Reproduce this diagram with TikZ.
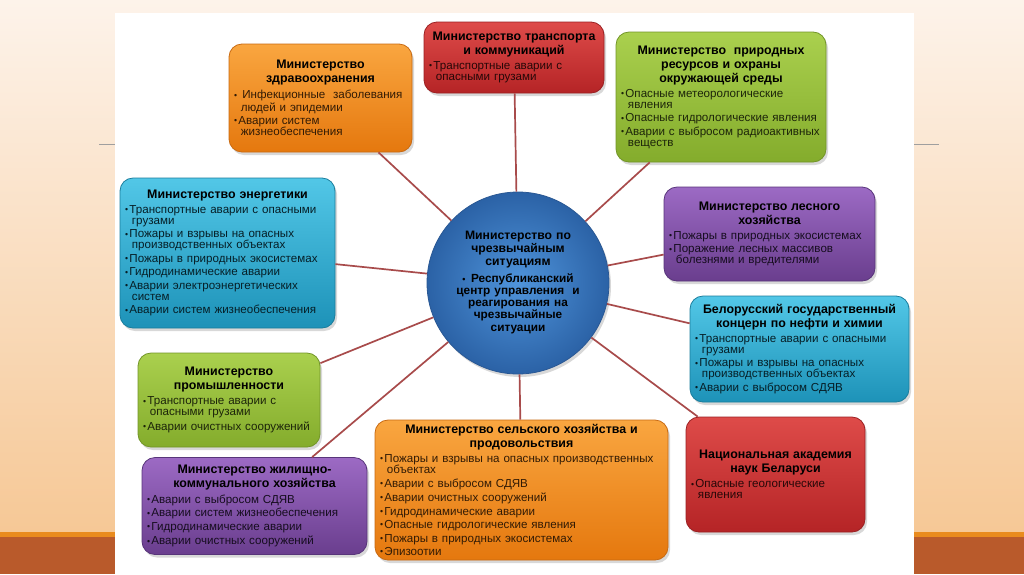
\documentclass[tikz,border=0pt]{standalone}
\usepackage{fontspec}
\setmainfont{Liberation Sans}
\usepackage{xcolor}
\usepackage{tikz}
\usetikzlibrary{positioning}
\usetikzlibrary{shadows}
\usetikzlibrary{shapes.geometric}
\setlength{\parindent}{0pt}

\definecolor{bgT}{HTML}{FDF3EA}
\definecolor{bgB}{HTML}{F6C896}
\definecolor{stripO}{HTML}{E98B1E}
\definecolor{bandB}{HTML}{B95A2B}
\definecolor{orT}{HTML}{F9A640}
\definecolor{orB}{HTML}{E5780E}
\definecolor{orD}{HTML}{C86A12}
\definecolor{rdT}{HTML}{DE4B49}
\definecolor{rdB}{HTML}{B52426}
\definecolor{rdD}{HTML}{9A2022}
\definecolor{grT}{HTML}{AAD04E}
\definecolor{grB}{HTML}{84AC2C}
\definecolor{grD}{HTML}{729528}
\definecolor{cyT}{HTML}{52C7E7}
\definecolor{cyB}{HTML}{1D92B8}
\definecolor{cyD}{HTML}{1A7D9C}
\definecolor{puT}{HTML}{9C6AC4}
\definecolor{puB}{HTML}{6A3E8E}
\definecolor{puD}{HTML}{58357A}
\definecolor{ciI}{HTML}{4F94DB}
\definecolor{ciO}{HTML}{2B62A6}
\definecolor{ciD}{HTML}{2A5894}
\definecolor{edgeC}{HTML}{A84B4B}

\newcommand{\bul}{\raisebox{.1ex}{\scalebox{.75}{\textbullet}}\hspace{.12em}}
\newcommand{\itm}{\par\vspace{2.5pt}\bul}
\newcommand{\cont}{\\\hspace*{.6em}}
\newcommand{\ttl}[1]{{\centering\color{black}\bfseries\fontsize{12.4}{14}\selectfont #1\par}\vspace{1.5pt}}

\tikzset{
    box/.style = {rounded corners=13pt, line width=0.8pt, align=left, inner xsep=5pt, inner ysep=3pt,
        drop shadow={opacity=0.3, shadow xshift=2pt, shadow yshift=-3pt},
        font=\fontsize{11.6}{11}\selectfont},
    boxor/.style = {box, draw=orD, top color=orT, bottom color=orB, text=black!75!orD},
    boxrd/.style = {box, draw=rdD, top color=rdT, bottom color=rdB, text=black!75!rdD},
    boxgr/.style = {box, draw=grD, top color=grT, bottom color=grB, text=black!75!grD},
    boxcy/.style = {box, draw=cyD, top color=cyT, bottom color=cyB, text=black!75!cyD},
    boxpu/.style = {box, draw=puD, top color=puT, bottom color=puB, text=black!75!puD},
    circ/.style = {circle, draw=ciD, line width=0.8pt, inner color=ciI, outer color=ciO,
        minimum size=180pt, text width=150pt, align=center, inner sep=0pt,
        drop shadow={opacity=0.3, shadow xshift=2pt, shadow yshift=-3pt},
        font=\bfseries\fontsize{12.2}{13}\selectfont},
}

\begin{document}
\begin{tikzpicture}[
	x=1pt, y=-1pt
]
\tikzset{
    edgen/.style = {-, line width=1.7pt, edgeC}
}
\useasboundingbox (0,0) rectangle (1024,574);
% slide background
\fill[top color=bgT, bottom color=bgB] (0,0) rectangle (1024,532);
\fill[stripO] (0,532) rectangle (1024,537);
\fill[bandB] (0,537) rectangle (1024,574);
\fill[white] (115,13) rectangle (914,574);
\draw[gray!75, line width=0.7pt] (99,144) -- (115,144) (914,144) -- (939,144);
%
\node[circ] at (518,283) (mchs) {Министерство по\\чрезвычайным\\ситуациям\par\vspace{5pt}
    \fontsize{11.8}{12}\selectfont \bul\ Республиканский\\центр управления~ и\\реагирования на\\чрезвычайные\\ситуации};
%
\node[boxor, text width=173pt, minimum height=108pt] at (320.5,98) (zdrav) {\ttl{Министерство\\здравоохранения}
    \itm\ Инфекционные~ заболевания\cont людей и эпидемии\itm Аварии систем\cont жизнеобеспечения};
\node[boxrd, text width=170pt, minimum height=71pt] at (514,57.5) (trans) {\ttl{Министерство транспорта\\и коммуникаций}
    \itm Транспортные аварии с\cont опасными грузами};
\node[boxgr, text width=200pt, minimum height=130pt] at (721,97) (prir) {\ttl{Министерство~ природных\\ресурсов и охраны\\окружающей среды}
    \itm Опасные метеорологические\cont явления\itm Опасные гидрологические явления\itm Аварии с выбросом радиоактивных\cont веществ};
\node[boxcy, text width=205pt, minimum height=150pt] at (227.5,253) (energ) {\ttl{Министерство энергетики}
    \itm Транспортные аварии с опасными\cont грузами\itm Пожары и взрывы на опасных\cont производственных объектах
    \itm Пожары в природных экосистемах\itm Гидродинамические аварии\itm Аварии электроэнергетических\cont систем
    \itm Аварии систем жизнеобеспечения};
\node[boxpu, text width=201pt, minimum height=94pt] at (769.5,234) (les) {\ttl{Министерство лесного\\хозяйства}
    \itm Пожары в природных экосистемах\itm Поражение лесных массивов\cont болезнями и вредителями};
\node[boxcy, text width=209pt, minimum height=106pt] at (799.5,349) (neft) {\ttl{Белорусский государственный\\концерн по нефти и химии}
    \itm Транспортные аварии с опасными\cont грузами\itm Пожары и взрывы на опасных\cont производственных объектах
    \itm Аварии с выбросом СДЯВ};
\node[boxrd, text width=169pt, minimum height=115pt] at (775.5,474.5) (nan) {\ttl{Национальная академия\\наук Беларуси}
    \itm Опасные геологические\cont явления};
\node[boxor, text width=283pt, minimum height=140pt] at (521.5,490) (selh) {\ttl{Министерство сельского хозяйства и\\продовольствия}
    \itm Пожары и взрывы на опасных производственных\cont объектах\itm Аварии с выбросом СДЯВ\itm Аварии очистных сооружений
    \itm Гидродинамические аварии\itm Опасные гидрологические явления\itm Пожары в природных экосистемах\itm Эпизоотии};
\node[boxgr, text width=172pt, minimum height=94pt] at (229,400) (prom) {\ttl{Министерство\\промышленности}
    \itm Транспортные аварии с\cont опасными грузами\itm Аварии очистных сооружений};
\node[boxpu, text width=215pt, minimum height=97pt] at (254.5,506) (zhkh) {\ttl{Министерство жилищно-\\коммунального хозяйства}
    \itm Аварии с выбросом СДЯВ\itm Аварии систем жизнеобеспечения\itm Гидродинамические аварии\itm Аварии очистных сооружений};
%
\draw[edgen] (mchs) edge (zdrav);
\draw[edgen] (mchs) edge (trans);
\draw[edgen] (mchs) edge (prir);
\draw[edgen] (mchs) edge (energ);
\draw[edgen] (mchs) edge (les);
\draw[edgen] (mchs) edge (neft);
\draw[edgen] (mchs) edge (nan);
\draw[edgen] (mchs) edge (selh);
\draw[edgen] (mchs) edge (prom);
\draw[edgen] (mchs) edge (zhkh);
\end{tikzpicture}
\end{document}
